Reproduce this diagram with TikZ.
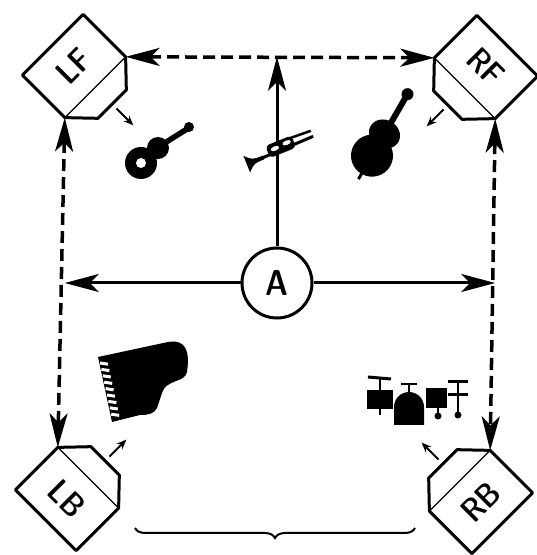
\documentclass[tikz,border=0pt]{standalone}
\usetikzlibrary{arrows.meta,decorations.pathreplacing}

\begin{document}
\begin{tikzpicture}[x=1pt, y=1pt,
    flow/.style={line width=3pt, -{Stealth[length=34pt, width=18pt, inset=9pt]}},
    feed/.style={line width=3.5pt, dash pattern=on 12pt off 6pt,
      {Stealth[length=34pt, width=18pt, inset=9pt]}-{Stealth[length=34pt, width=18pt, inset=9pt]}},
    cue/.style={line width=1.8pt, -{Stealth[length=10pt, width=8pt]}},
    tag/.style={font=\sffamily\fontseries{sbc}\fontsize{33}{33}\selectfont, inner sep=0pt},
    pics/speaker/.style 2 args={code={
      \draw[line width=3pt, line join=round] (-43,30) -- (43,30) -- (43,-30) -- (20,-54) -- (-20,-54) -- (-43,-30) -- cycle;
      \draw[line width=1.2pt] (-43,-30) -- (43,-30);
      \coordinate (-ha) at (43,-30);
      \coordinate (-hb) at (-43,-30);
      \node[tag, rotate=#2] (-tag) at (0,0) {#1};
      \draw[cue] (0,-60) -- (0,-84);
    }}]
  \useasboundingbox (0,0) rectangle (537,555);

  % Speakers
  \pic[rotate=45] (lf) at (74,489) {speaker={LF}{45}};
  \pic[rotate=-45] (rf) at (486,488) {speaker={RF}{-45}};
  \pic[rotate=135] (lb) at (67,56) {speaker={LB}{-45}};
  \pic[rotate=-135] (rb) at (481,53) {speaker={RB}{45}};

  % Listener
  \node[circle, draw, line width=3pt, minimum size=70pt, inner sep=0pt,
    font=\sffamily\fontseries{sbc}\fontsize{36}{36}\selectfont] (A) at (277,272) {A};

  % Speaker links
  \draw[feed] (lf-ha) -- (rf-hb);
  \draw[feed] (lf-hb) -- (lb-ha);
  \draw[feed] (rf-ha) -- (rb-hb);

  % Listener lines
  \draw[flow] (A.north) -- (A.north |- lf-ha);
  \draw[flow] (A.west) -- (A.west -| lf-hb);
  \draw[flow] (A.east) -- (A.east -| rf-ha);

  % Guitar
  \fill (141,392) circle[radius=16pt];
  \fill (158,407) circle[radius=11pt];
  \draw[line width=5.5pt] (160,409) -- (187,426);
  \fill (189,428) circle[radius=5pt];
  \fill[white] (141,392) circle[radius=5pt];

  % Trumpet
  \begin{scope}[shift={(282,405)}, rotate=22]
    \fill (-38,-9) .. controls (-31,-2) .. (-20,-2) -- (-20,2) .. controls (-31,2) .. (-38,9) -- cycle;
    \draw[line width=3pt] (-22,0) -- (34,1);
    \fill[rounded corners=4pt] (-14,-3) rectangle (14,10);
    \fill[white] (-6,4) ellipse[x radius=4.5pt, y radius=2.2pt];
    \fill[white] (7,5) ellipse[x radius=4.5pt, y radius=2.2pt];
    \draw[line width=2.5pt] (12,8) -- (34,7);
  \end{scope}

  % Double bass
  \begin{scope}[shift={(377,408)}, rotate=-30]
    \fill (0,-10) circle[radius=21pt];
    \fill (0,15) ellipse[x radius=16pt, y radius=14pt];
    \draw[line width=6pt] (0,22) -- (0,58);
    \fill (0,61) circle[radius=6pt];
    \draw[line width=3pt] (0,-28) -- (0,-37);
  \end{scope}

  % Grand piano
  \fill (98,198) -- (168,213) .. controls (186,216) and (190,204) .. (187,183)
    .. controls (185,172) and (166,176) .. (162,162) -- (157,147)
    .. controls (154,141) and (148,140) .. (140,140) -- (112,133) -- cycle;
  \foreach \k in {0,...,8} {
    \draw[white, line width=3pt] ({100+1.4*\k},{192-6.4*\k}) -- ++(8,-1.2);
  }

  % Drum kit
  \fill (394,130) -- (394,148) arc[start angle=180, end angle=0, radius=15pt] -- (424,130) -- cycle;
  \fill (367,146) rectangle (393,165);
  \fill (426,147) rectangle (447,167);
  \draw[line width=3pt] (368,178) -- (391,176);
  \draw[line width=2pt] (380,177) -- (380,165);
  \draw[line width=2pt] (380,147) -- (380,140);
  \draw[line width=2.5pt] (401,171) -- (417,171);
  \draw[line width=2pt] (409,171) -- (409,160);
  \draw[line width=3pt] (448,173) -- (468,173);
  \draw[line width=3pt] (448,160) -- (468,160);
  \draw[line width=2pt] (458,173) -- (458,143);
  \fill (458,140) circle[radius=3.5pt];
  \draw[line width=2pt] (438,147) -- (438,142);
  \fill (438,139) circle[radius=3.5pt];

  % Band brace
  \coordinate (bl) at (135,27);
  \coordinate (br) at (415,27);
  \draw[line width=2pt, decorate, decoration={brace, amplitude=10pt}] (br) -- (bl);
\end{tikzpicture}
\end{document}
